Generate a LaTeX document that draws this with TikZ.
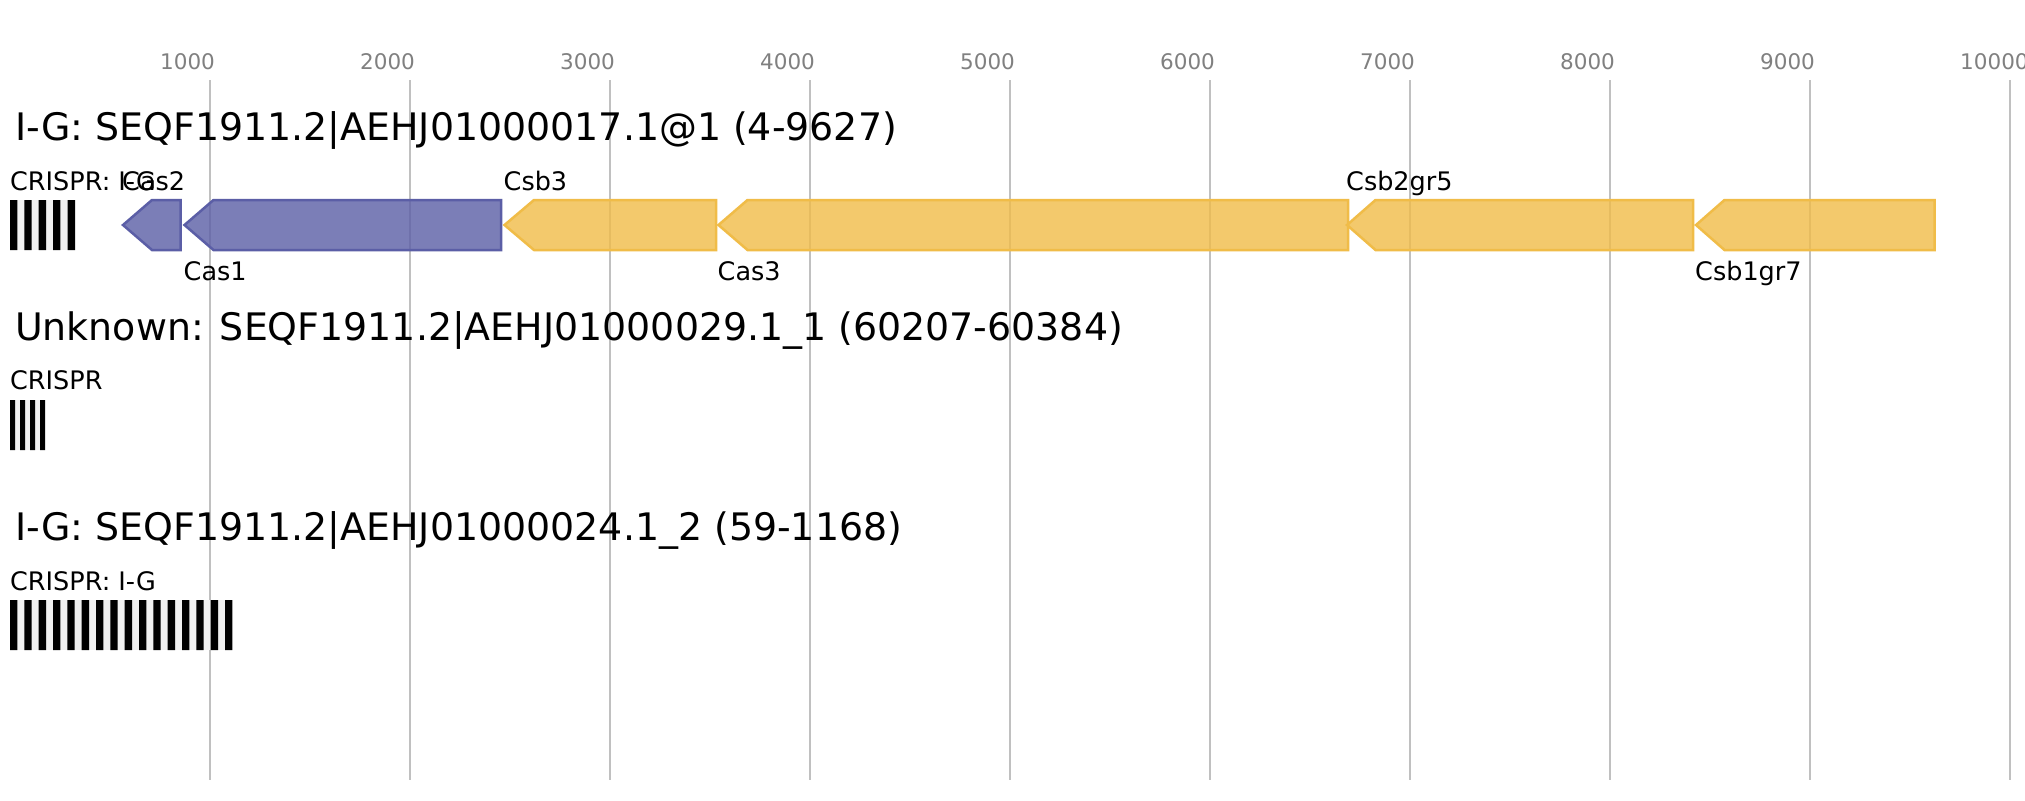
\documentclass[tikz,border=0pt]{standalone}
\usepackage{fontspec}
\setmainfont{DejaVu Sans}
\definecolor{gridgray}{HTML}{C0C0C0}
\definecolor{tickgray}{HTML}{808080}
\definecolor{casblue}{HTML}{5B5EA6}
\definecolor{csbgold}{HTML}{F0BC48}
\definecolor{spacer}{HTML}{F0F0F0}
\tikzset{
  title/.style={anchor=base west,inner sep=0,font=\fontsize{37.9}{40}\selectfont},
  genelabel/.style={anchor=base west,inner sep=0,font=\fontsize{25.5}{28}\selectfont},
  ticklabel/.style={anchor=base west,inner sep=0,text=tickgray,font=\fontsize{21.5}{24}\selectfont},
  gridline/.style={draw=gridgray,line width=2},
  casgene/.style={draw=casblue,fill=casblue,fill opacity=0.8,line width=2.5,line join=miter},
  csbgene/.style={draw=csbgold,fill=csbgold,fill opacity=0.8,line width=2.5,line join=miter}
}

\begin{document}
\begin{tikzpicture}[x=1pt,y=-1pt]
\useasboundingbox (0,0) rectangle (2025,800);
\fill[white] (0,0) rectangle (2025,800);
% scale
\draw[gridline] (210,80) -- (210,780);
\draw[gridline] (410,80) -- (410,780);
\draw[gridline] (610,80) -- (610,780);
\draw[gridline] (810,80) -- (810,780);
\draw[gridline] (1010,80) -- (1010,780);
\draw[gridline] (1210,80) -- (1210,780);
\draw[gridline] (1410,80) -- (1410,780);
\draw[gridline] (1610,80) -- (1610,780);
\draw[gridline] (1810,80) -- (1810,780);
\draw[gridline] (2010,80) -- (2010,780);
\node[ticklabel] (t1) at (160,70) {1000};
\node[ticklabel] (t2) at (360,70) {2000};
\node[ticklabel] (t3) at (560,70) {3000};
\node[ticklabel] (t4) at (760,70) {4000};
\node[ticklabel] (t5) at (960,70) {5000};
\node[ticklabel] (t6) at (1160,70) {6000};
\node[ticklabel] (t7) at (1360,70) {7000};
\node[ticklabel] (t8) at (1560,70) {8000};
\node[ticklabel] (t9) at (1760,70) {9000};
\node[ticklabel] (t10) at (1960,70) {10000};

% operon 1
\node[title] (head1) at (15,140) {I-G: SEQF1911.2|AEHJ01000017.1@1 (4-9627)};
\fill[spacer] (10,200) rectangle (75,250);
\fill[black] (10,200) rectangle (17.3,250) (24.3,200) rectangle (31.7,250)
  (38.7,200) rectangle (46,250) (53,200) rectangle (60.3,250) (67.7,200) rectangle (75,250);
\node[genelabel] (arr1) at (10,190) {CRISPR: I-G};
\draw[casgene] (123,225) -- (152,200) -- (180.5,200) -- (180.5,250) -- (152,250) -- cycle;
\draw[casgene] (184.5,225) -- (213.5,200) -- (501,200) -- (501,250) -- (213.5,250) -- cycle;
\draw[csbgene] (504.5,225) -- (534,200) -- (716,200) -- (716,250) -- (534,250) -- cycle;
\draw[csbgene] (718.5,225) -- (747.5,200) -- (1348,200) -- (1348,250) -- (747.5,250) -- cycle;
\draw[csbgene] (1347,225) -- (1375.5,200) -- (1693,200) -- (1693,250) -- (1375.5,250) -- cycle;
\draw[csbgene] (1696,225) -- (1724.5,200) -- (1934.5,200) -- (1934.5,250) -- (1724.5,250) -- cycle;
\node[genelabel] (cas2) at (122,190) {Cas2};
\node[genelabel] (cas1) at (183.5,280) {Cas1};
\node[genelabel] (csb3) at (503.5,190) {Csb3};
\node[genelabel] (cas3) at (717.5,280) {Cas3};
\node[genelabel] (csb2) at (1346,190) {Csb2gr5};
\node[genelabel] (csb1) at (1695,280) {Csb1gr7};

% operon 2
\node[title] (head2) at (15,340) {Unknown: SEQF1911.2|AEHJ01000029.1\_1 (60207-60384)};
\fill[spacer] (10,400) rectangle (45,450);
\fill[black] (10,400) rectangle (15,450) (20,400) rectangle (25,450)
  (30,400) rectangle (35,450) (40,400) rectangle (45,450);
\node[genelabel] (arr2) at (10,389) {CRISPR};

% operon 3
\node[title] (head3) at (15,540) {I-G: SEQF1911.2|AEHJ01000024.1\_2 (59-1168)};
\fill[spacer] (10,600) rectangle (232.3,650);
\fill[black] (10,600) rectangle (17.3,650) (24.3,600) rectangle (31.7,650)
  (38.7,600) rectangle (46,650) (53,600) rectangle (60.3,650)
  (67.3,600) rectangle (74.7,650) (81.7,600) rectangle (89,650)
  (96,600) rectangle (103.3,650) (110.3,600) rectangle (117.7,650)
  (124.7,600) rectangle (132,650) (139,600) rectangle (146.3,650)
  (153.3,600) rectangle (160.7,650) (167.7,600) rectangle (175,650)
  (182,600) rectangle (189.3,650) (196.3,600) rectangle (203.7,650)
  (210.7,600) rectangle (218,650) (225,600) rectangle (232.3,650);
\node[genelabel] (arr3) at (10,590) {CRISPR: I-G};
\end{tikzpicture}
\end{document}
